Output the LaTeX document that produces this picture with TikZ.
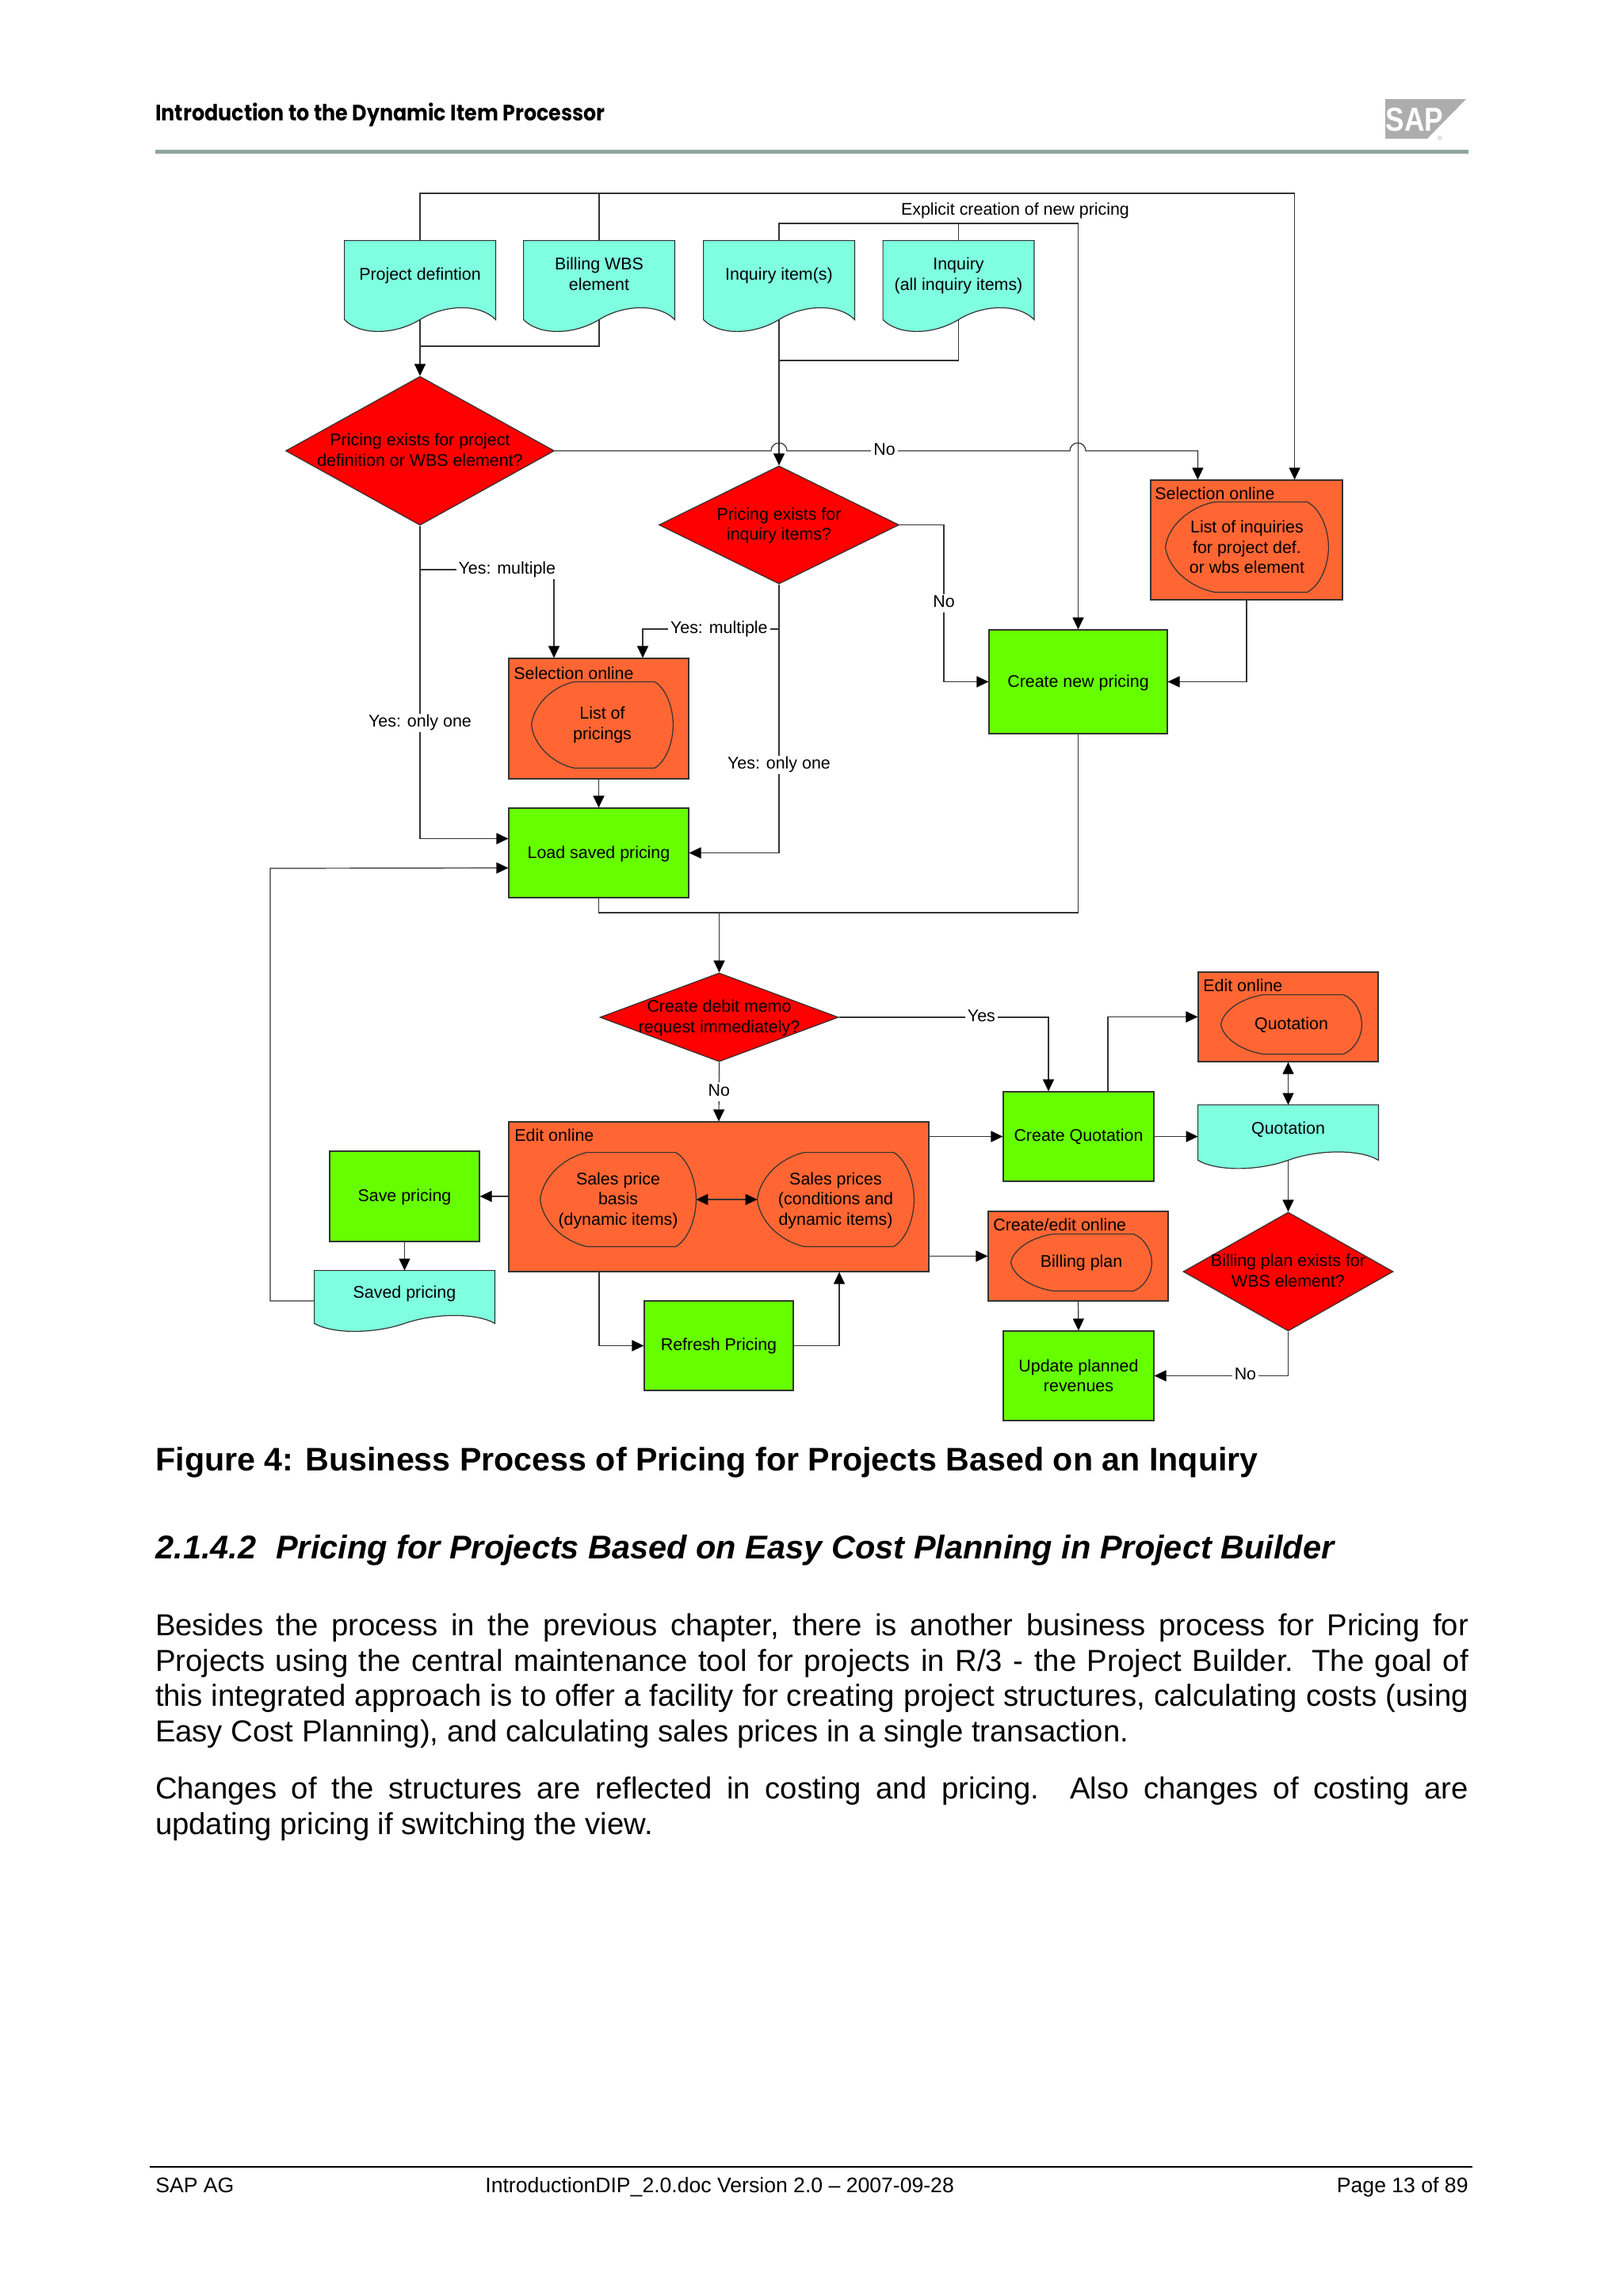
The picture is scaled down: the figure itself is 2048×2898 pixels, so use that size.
\documentclass[tikz,border=0pt]{standalone}
\usepackage{fontspec}
\setmainfont{Liberation Sans}
\newfontfamily\headfont[FakeStretch=.9]{Poppins}
\usetikzlibrary{arrows.meta,calc,backgrounds,shapes.geometric}
\definecolor{docfill}{HTML}{7FFFDF}
\definecolor{stepfill}{HTML}{66FF00}
\definecolor{onlinefill}{HTML}{FF6633}
\definecolor{rulegrey}{HTML}{8FA69E}
\definecolor{sapgrey}{HTML}{ADADAD}
\definecolor{linegrey}{HTML}{333333}
% several lines, centred on the node, taking no room in it
\newcommand{\ctext}[2][\dimexpr-.25em-.8pt\relax]{\raisebox{#1}[0pt][0pt]{\begin{tabular}[c]{@{}c@{}}#2\end{tabular}}}
\newcommand{\dtext}[1]{\makebox[0pt]{\ctext{#1}}}
\newcommand{\docwave}[1]{\begin{pgfonlayer}{background}
  \draw[flow,fill=docfill,x={($(#1.east)-(#1.center)$)},y={($(#1.north)-(#1.center)$)},shift={(#1.center)}]
    (-1,1)--(-1,-1) .. controls (-.8,-1.4) and (-.34,-1.4) .. (0,-1) .. controls (.34,-.6) and (.8,-.6) .. (1,-1)--(1,1)--cycle;
  \end{pgfonlayer}}
\newcommand{\dispcurve}[1]{\draw[flow,x={($(#1.east)-(#1.center)$)},y={($(#1.north)-(#1.center)$)},shift={(#1.center)}]
    (-1,0) .. controls (-.97,.45) and (-.72,.88) .. (-.4,1)--(.74,1) .. controls (.9,.85) and (1,.4) .. (1,0)
    .. controls (1,-.4) and (.9,-.85) .. (.74,-1)--(-.4,-1) .. controls (-.72,-.88) and (-.97,-.45) .. (-1,0)--cycle;}
\begin{document}
\begin{tikzpicture}[x=.5pt,y=-.5pt,>={Triangle[length=7.5pt,width=7pt,color=black,fill=black]},
  every node/.style={font=\fontsize{10.7}{12.8}\selectfont,inner sep=0pt},
  flow/.style={draw=linegrey,line width=.6pt},
  arrow/.style={flow,->},
  both/.style={flow,<->},
  docbox/.style={minimum width=95pt,minimum height=49.5pt},
  stepbox/.style={flow,fill=stepfill,align=center},
  onlinebox/.style={flow,fill=onlinefill},
  display/.style={align=center},
  decide/.style={flow,diamond,fill=red},
  tag/.style={anchor=west},
  lab/.style={fill=white,inner xsep=1.5pt,inner ysep=1pt,text height=7.6pt,text depth=2.2pt}]
  \useasboundingbox (0,0) rectangle (2048,2898);
  % page head
  \node[anchor=base west] (headtext) at (196,152) {\headfont\fontsize{14.1}{16}\selectfont\bfseries Introduction to the Dynamic Item Processor};
  \fill[sapgrey] (1748,125)--(1850,125)--(1801,175)--(1748,175)--cycle;
  \node[text=white,font=\fontsize{21}{22}\selectfont\bfseries] (saplogo) at (1785,151) {\scalebox{.84}[1]{SAP}};
  \node[text=sapgrey,font=\fontsize{4}{5}\selectfont] (sapmark) at (1817,175) {®};
  \draw[rulegrey,line width=2.5pt] (196,191.5)--(1853,191.5);
  % documents
  \node[docbox] (prj) at (530,353.5) {\ctext[-.2pt]{Project defintion}}; \docwave{prj}
  \node[docbox] (wbs) at (756,353.5) {\ctext[-.2pt]{Billing WBS\\element}}; \docwave{wbs}
  \node[docbox] (inqi) at (983,353.5) {\ctext[-.2pt]{Inquiry item(s)}}; \docwave{inqi}
  \node[docbox] (inq) at (1209.5,353.5) {\ctext[-.2pt]{Inquiry\\(all inquiry items)}}; \docwave{inq}
  \node[docbox,minimum width=113.5pt,minimum height=33pt] (saved) at (510.5,1637) {\ctext[-1.1pt]{Saved pricing}}; \docwave{saved}
  \node[docbox,minimum width=113.5pt,minimum height=34.5pt] (quot) at (1625.5,1429.5) {\ctext[-1.1pt]{Quotation}}; \docwave{quot}
  % decisions
  \node[decide,minimum width=169.5pt,minimum height=94pt] (dia1) at (530,569) {\dtext{Pricing exists for project\\definition or WBS element?}};
  \node[decide,minimum width=151.5pt,minimum height=74.5pt] (dia2) at (983,662.5) {\dtext{Pricing exists for\\inquiry items?}};
  \node[decide,minimum width=150.5pt,minimum height=56pt] (dia3) at (907.5,1284) {\dtext{Create debit memo\\request immediately?}};
  \node[decide,minimum width=132.5pt,minimum height=75pt] (dia4) at (1625.5,1605) {\dtext{Billing plan exists for\\WBS element?}};
  % steps
  \node[stepbox,minimum width=112.5pt,minimum height=65.5pt] (create) at (1360.5,860.5) {\ctext{Create new pricing}};
  \node[stepbox,minimum width=113.5pt,minimum height=56.5pt] (load) at (755.5,1076.5) {\ctext{Load saved pricing}};
  \node[stepbox,minimum width=94.5pt,minimum height=57pt] (save) at (510.5,1510) {\ctext{Save pricing}};
  \node[stepbox,minimum width=94pt,minimum height=56.5pt] (refr) at (907,1698.5) {Refresh Pricing};
  \node[stepbox,minimum width=95pt,minimum height=56.5pt] (cq) at (1361,1434.5) {Create Quotation};
  \node[stepbox,minimum width=95pt,minimum height=56.5pt] (upd) at (1361,1736.5) {Update planned\\revenues};
  % online transactions
  \node[onlinebox,minimum width=121pt,minimum height=75.5pt] (sel) at (1573,681.5) {};
  \node[tag] (seltag) at (1457,623) {Selection online};
  \node[display,minimum width=102.5pt,minimum height=56.5pt] (selin) at (1573.5,690.5) {List of inquiries\\for project def.\\or wbs element}; \dispcurve{selin}
  \node[onlinebox,minimum width=113.5pt,minimum height=76pt] (selp) at (755.5,907) {};
  \node[tag] (selptag) at (648,850) {Selection online};
  \node[display,minimum width=89pt,minimum height=54pt] (selpin) at (760,915) {List of\\pricings}; \dispcurve{selpin}
  \node[onlinebox,minimum width=265pt,minimum height=94.5pt] (edit) at (907,1510.5) {};
  \node[tag] (edittag) at (649,1433) {Edit online};
  \node[display,minimum width=98pt,minimum height=59pt] (basis) at (780,1514) {\ctext{Sales price\\basis\\(dynamic items)}}; \dispcurve{basis}
  \node[display,minimum width=98.5pt,minimum height=59pt] (prices) at (1054.5,1514) {\ctext{Sales prices\\(conditions and\\dynamic items)}}; \dispcurve{prices}
  \node[onlinebox,minimum width=113.5pt,minimum height=56.5pt] (edq) at (1625.5,1283.5) {};
  \node[tag] (edqtag) at (1518,1244) {Edit online};
  \node[display,minimum width=88.5pt,minimum height=37pt] (edqin) at (1629.5,1293) {\ctext{Quotation}}; \dispcurve{edqin}
  \node[onlinebox,minimum width=113.5pt,minimum height=56.5pt] (bplan) at (1360.5,1585.5) {};
  \node[tag] (bplantag) at (1253,1546) {Create/edit online};
  \node[display,minimum width=88.5pt,minimum height=35.5pt] (bplanin) at (1364.5,1593.5) {Billing plan}; \dispcurve{bplanin}
  % junctions of the lines
  \coordinate (railtop) at (756,244);
  \coordinate (railinq) at (1209.5,282);
  \coordinate (joinprj) at (530,437);
  \coordinate (joininq) at (983,455);
  \coordinate (hopa) at (973,569);
  \coordinate (hopb) at (1350,569);
  \coordinate (brprj) at (530,719);
  \coordinate (brinq) at (983,794);
  \coordinate (bendno) at (1191,860.5);
  \coordinate (joinc) at (907.5,1152);
  \coordinate (railsave) at (341,1096);
  % connectors
  \draw[arrow] (prj.north)|-(railtop)-|([xshift=-30.5pt]sel.north east);\draw[flow] (wbs.north)--(railtop);
  \draw[arrow] (inqi.north)|-(railinq)-|(create.north);\draw[flow] (inq.north)--(railinq);
  \node (explicit) at (1281,266) {Explicit creation of new pricing};
  \draw[arrow] (prj.south)--(dia1.north);\draw[flow] (wbs.south)|-(joinprj);
  \draw[arrow] (inqi.south)--(dia2.north);\draw[flow] (inq.south)|-(joininq);
  \draw[arrow] (dia1.east)--(hopa) arc[start angle=180,end angle=0,radius=5pt]--node[lab,pos=.345]{No}(hopb) arc[start angle=180,end angle=0,radius=5pt]-|([xshift=30pt]sel.north west);
  \draw[arrow] (dia1.south)|-node[lab,pos=.315]{Yes: only one}([yshift=9pt]load.west);
  \draw[arrow] (brprj)-|node[lab,pos=.325]{Yes: multiple}([xshift=-28.25pt]selp.north);
  \draw[arrow] (dia2.south)|-node[lab,pos=.336]{Yes: only one}(load.east);
  \draw[arrow] (brinq)-|node[lab,pos=.22]{Yes: multiple}([xshift=27.75pt]selp.north);
  \draw[arrow] (dia2.east)-|node[lab,pos=.75]{No}(bendno)--(create.west);
  \draw[arrow] (sel.south)|-(create.east);
  \draw[arrow] (selp.south)--(load.north);
  \draw[flow] (create.south)|-(joinc);\draw[flow] (load.south)|-(joinc);
  \draw[arrow] (joinc)--(dia3.north);
  \draw[arrow] ([yshift=-2.5pt]saved.west)-|(railsave)--([yshift=-9.5pt]load.west);
  \draw[arrow] (dia3.east)-|node[lab,pos=.34]{Yes}([xshift=-19pt]cq.north);
  \draw[arrow] (dia3.south)--node[lab]{No}(edit.north);
  \draw[arrow] (edit.west |- save.east)--(save.east);
  \draw[arrow] (save.south)--(saved.north);
  \draw[arrow] ([xshift=-75.5pt]edit.south)|-(refr.west);
  \draw[arrow] (refr.east)-|([xshift=76pt]edit.south);
  \draw[both] (basis.east)--(prices.west);
  \draw[arrow] (edit.east |- cq.west)--(cq.west);
  \draw[arrow] (edit.east |- bplan.west)--(bplan.west);
  \draw[arrow] ([xshift=18.5pt]cq.north)|-(edq.west);
  \draw[arrow] (cq.east)--(cq.east -| quot.west);
  \draw[both] (edq.south)--(quot.north);
  \draw[arrow] (quot.south)--(dia4.north);
  \draw[arrow] (bplan.south)--(upd.north);
  \draw[arrow] (dia4.south)|-node[lab,pos=.66]{No}(upd.east);
  % text of the page
  \node[anchor=base west,font=\fontsize{20.6}{24}\selectfont\bfseries] (caption) at (196,1856) {Figure 4: Business Process of Pricing for Projects Based on an Inquiry};
  \node[anchor=base west,font=\fontsize{20.75}{24}\selectfont\bfseries\itshape] (section) at (196,1967.5) {2.1.4.2\hspace{.6em}Pricing for Projects Based on Easy Cost Planning in Project Builder};
  \node[text width=828.5pt,align=justify,font=\fontsize{19.15}{22.2}\selectfont] (para1) at (1024.5,2121.5) {Besides the process in the previous chapter, there is another business process for Pricing for\linebreak Projects using the central maintenance tool for projects in R/3 - the Project Builder. The goal of\linebreak this integrated approach is to offer a facility for creating project structures, calculating costs (using\linebreak Easy Cost Planning), and calculating sales prices in a single transaction.};
  \node[text width=828.5pt,align=justify,font=\fontsize{19.15}{22.2}\selectfont] (para2) at (1024.5,2283) {Changes of the structures are reflected in costing and pricing. Also changes of costing are\linebreak updating pricing if switching the view.};
  % page foot
  \draw[black,line width=1pt] (189,2735)--(1858,2735);
  \node[anchor=base west,font=\fontsize{13.3}{16}\selectfont] (footl) at (196,2767) {SAP AG};
  \node[anchor=base west,font=\fontsize{13.3}{16}\selectfont] (footm) at (612,2767) {IntroductionDIP\_2.0.doc Version 2.0 – 2007-09-28};
  \node[anchor=base east,font=\fontsize{13.3}{16}\selectfont] (footr) at (1853,2767) {Page 13 of 89};
\end{tikzpicture}
\end{document}
